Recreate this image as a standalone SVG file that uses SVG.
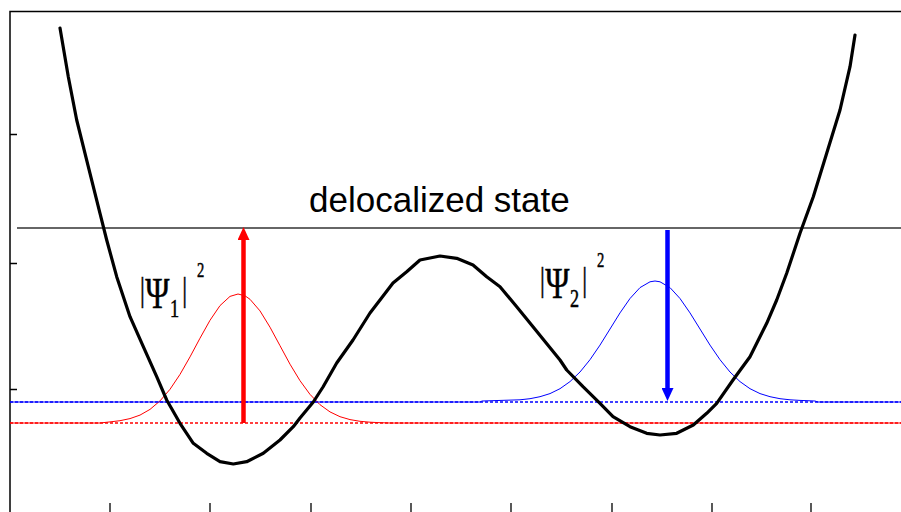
<svg xmlns="http://www.w3.org/2000/svg" width="901" height="512" viewBox="0 0 901 512">
<defs>
<style>
.axis{stroke:#000;stroke-width:1.5;fill:none}
.tick{stroke:#000;stroke-width:1.3}
.deloc{stroke:#333;stroke-width:1.4}
.pot{stroke:#000;stroke-width:3.2;fill:none;stroke-linejoin:round;stroke-linecap:round}
.wf{stroke-width:1;fill:none;stroke-linejoin:round}
.dot{stroke-width:1.5;stroke-dasharray:3 2;fill:none}
.red{stroke:#ff0000}
.blue{stroke:#0000ff}
.lbl{font-family:"Liberation Serif","Times New Roman",serif;font-size:45px;fill:#000;stroke:#000;stroke-width:0.5}
.title{font-family:"Liberation Sans",Arial,sans-serif;font-size:35px;fill:#000}
</style>
<marker id="headR" viewBox="0 0 13 12" refX="0" refY="6" markerWidth="13" markerHeight="12" markerUnits="userSpaceOnUse" orient="auto"><path d="M0,0 L13,6 L0,12 z" fill="#ff0000"/></marker>
<marker id="headB" viewBox="0 0 13 12" refX="0" refY="6" markerWidth="13" markerHeight="12" markerUnits="userSpaceOnUse" orient="auto"><path d="M0,0 L13,6 L0,12 z" fill="#0000ff"/></marker>
</defs>
<rect width="901" height="512" fill="#fff"/>
<g id="axes">
<path class="axis" d="M10,512 V11.5 H901"/>
<path class="tick" d="M10,134.5 H17 M10,263.5 H17 M10,389.5 H17 M110,503 V512 M210,503 V512 M311,503 V512 M411,503 V512 M511,503 V512 M612,503 V512 M712,503 V512 M811,503 V512"/>
</g>
<g id="delocalized-state">
<line class="deloc" x1="17" y1="228" x2="901" y2="228"/>
<text class="title" x="309" y="212">delocalized state</text>
</g>
<g id="levels">
<line class="dot red" x1="10" y1="423" x2="901" y2="423"/>
<line class="dot blue" x1="10" y1="402" x2="901" y2="402"/>
</g>
<g id="wavefunctions">
<polyline id="psi1" class="wf red" points="10,423 100,423 110,421.9 120,420.7 130,418.6 140,415.1 150,409.4 160,400.9 170,389.3 180,374.4 190,356.9 200,338.2 210,320.3 220,305.6 230,296.4 238,294 245,295.8 250,299.3 260,310.9 270,327.2 280,345.7 290,364.2 300,380.7 310,394.4 320,404.7 330,411.9 340,416.7 350,419.6 360,421.3 370,422.2 380,422.7 390,423 901,423"/>
<polyline id="psi2" class="wf blue" points="10,402 480,402 482,401 520,399.8 530,398.7 540,396.7 550,393.6 560,388.7 570,381.6 580,372 590,359.7 600,345.1 610,329 620,312.9 630,298.5 640,287.6 650,281.8 655,281 660,281.8 670,287.6 680,298.5 690,312.9 700,329 710,345.1 720,359.7 730,372 740,381.6 750,388.7 760,393.6 770,396.7 780,398.7 790,399.8 800,400.4 815,401 818,402 901,402"/>
</g>
<g id="potential">
<polyline class="pot" points="60,28 68.3,76.7 76.7,120 88.3,166.7 100,213.3 106.7,240 116.7,276.7 130,316.7 143.3,346.7 156.7,376.7 166.7,400 180,423.3 193.3,443.3 206.7,453.3 220,461.7 233.3,464 246.7,461.7 263.3,453.3 280,440 293.3,426.7 300,418 313.3,402 323,387 336.7,363 353,340 370,313 380,300 393,283 406.7,271.7 420,260 440,256 456.7,258.3 473,265 486.7,276.7 500,286.7 516.7,306.7 533,326.7 560,360 566.7,370 583,386.7 600,403.3 613,416.7 630,426.7 646.7,433.3 660,435 676.7,433.3 693.3,425 706.7,413.3 716.7,403.3 733,380 750,356.7 766.7,323.3 776.7,300 786.7,273.3 800,233.3 813.3,196.7 826.7,153.3 840,110 850,66.7 855,35"/>
</g>
<g id="connectors">
<line id="arrow-up" x1="243.5" y1="423" x2="243.5" y2="240" stroke="#ff0000" stroke-width="4.5" marker-end="url(#headR)"/>
<line id="arrow-down" x1="667.5" y1="230" x2="667.5" y2="388" stroke="#0000ff" stroke-width="4.5" marker-end="url(#headB)"/>
</g>
<g id="label-psi1">
<text class="lbl" transform="translate(140,308) scale(0.73,1)"><tspan x="0" font-size="33" dy="-7.5">|</tspan><tspan x="7.3" dy="7.5">Ψ</tspan><tspan x="41" font-size="25" dy="9">1</tspan><tspan x="57.8" font-size="33" dy="-16.5">|</tspan><tspan x="78" font-size="20" dy="-23.5">2</tspan></text>
</g>
<g id="label-psi2">
<text class="lbl" transform="translate(540,298) scale(0.73,1)"><tspan x="0" font-size="33" dy="-7.5">|</tspan><tspan x="7.3" dy="7.5">Ψ</tspan><tspan x="41" font-size="25" dy="9">2</tspan><tspan x="57.8" font-size="33" dy="-16.5">|</tspan><tspan x="78" font-size="20" dy="-23.5">2</tspan></text>
</g>
</svg>
